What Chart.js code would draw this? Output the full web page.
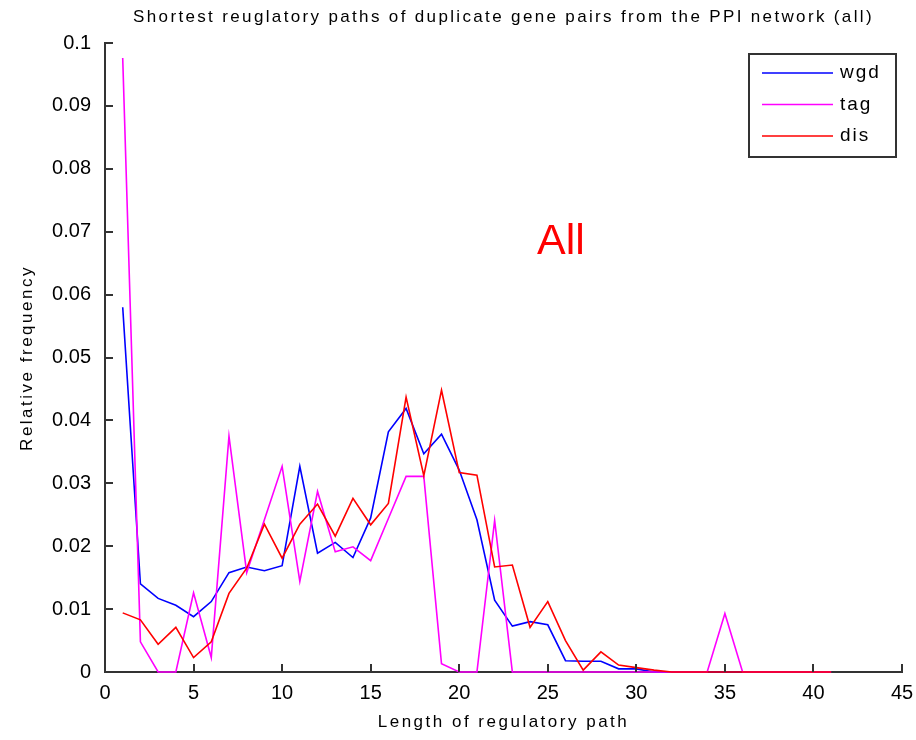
<!DOCTYPE html>
<html>
<head>
<meta charset="utf-8">
<script src="https://cdn.jsdelivr.net/npm/chart.js@4.4.1/dist/chart.umd.min.js"></script>
<style>
    html, body { margin: 0; padding: 0; background: #fff; }
    #wrap { width: 916px; height: 740px; }
</style>
</head>
<body>
<div id="wrap"><canvas id="pathChart" width="916" height="740"></canvas></div>
<script>
// path length 1..41
const pathLength = [1, 2, 3, 4, 5, 6, 7, 8, 9, 10, 11, 12, 13, 14, 15, 16, 17, 18, 19, 20,
    21, 22, 23, 24, 25, 26, 27, 28, 29, 30, 31, 32, 33, 34, 35, 36, 37, 38, 39, 40, 41];

const wgdFreq = [0.058, 0.014, 0.0117, 0.0106, 0.0088, 0.0112, 0.0158, 0.0167, 0.0161, 0.0169,
    0.0327, 0.0189, 0.0206, 0.0182, 0.0245, 0.0382, 0.0419, 0.0347, 0.0378, 0.0321,
    0.0242, 0.0114, 0.0073, 0.0080, 0.0075, 0.0018, 0.0017, 0.0017, 0.0005, 0.0005,
    0, 0, 0, 0, 0, 0, 0, 0, 0, 0, 0];

const tagFreq = [0.0976, 0.0048, 0, 0, 0.0126, 0.0023, 0.0375, 0.0158, 0.0242, 0.0327,
    0.0144, 0.0287, 0.0191, 0.0199, 0.0177, 0.0244, 0.0311, 0.0311, 0.0013, 0,
    0, 0.0241, 0, 0, 0, 0, 0, 0, 0, 0,
    0, 0, 0, 0, 0.0093, 0, 0, 0, 0, 0, 0];

const disFreq = [0.0094, 0.0083, 0.0044, 0.0071, 0.0023, 0.0048, 0.0125, 0.0165, 0.0235, 0.0181,
    0.0235, 0.0267, 0.0216, 0.0276, 0.0234, 0.0268, 0.0437, 0.0312, 0.0448, 0.0317,
    0.0313, 0.0167, 0.0170, 0.0071, 0.0112, 0.005, 0.0003, 0.0032, 0.0011, 0.0007,
    0.0003, 0, 0, 0, 0, 0, 0, 0, 0, 0, 0];

const seriesNames = ["wgd", "tag", "dis"];
const chartTitle = "Shortest reuglatory paths of duplicate gene pairs from the PPI network (all)";
const xTitle = "Length of regulatory path";
const yTitle = "Relative frequency";
const noteText = "All";

const AXIS_COLOR = "#333";

function toPoints(values) {
    return pathLength.map((x, i) => ({ x: x, y: values[i] }));
}

function drawText(ctx, text, x, y, opts) {
    ctx.save();
    ctx.font = opts.font;
    ctx.fillStyle = opts.color || "#000";
    ctx.textAlign = opts.align || "center";
    ctx.textBaseline = opts.baseline || "middle";
    ctx.letterSpacing = (opts.spacing || 0) + "px";
    ctx.translate(x, y);
    if (opts.rotate) ctx.rotate(opts.rotate);
    ctx.fillText(text, 0, 0);
    ctx.restore();
}

// inward tick marks, titles, annotation and the boxed legend
const decorPlugin = {
    id: "decor",
    afterDraw(chart) {
        const ctx = chart.ctx;
        const area = chart.chartArea;
        const xs = chart.scales.x;
        const ys = chart.scales.y;

        ctx.save();
        ctx.strokeStyle = AXIS_COLOR;
        ctx.lineWidth = 2;
        ctx.beginPath();
        xs.ticks.forEach(t => {
            if (t.value === 0) return;
            const px = Math.round(xs.getPixelForValue(t.value));
            ctx.moveTo(px, area.bottom);
            ctx.lineTo(px, area.bottom - 8);
        });
        ys.ticks.forEach(t => {
            if (t.value === 0) return;
            const py = Math.round(ys.getPixelForValue(t.value));
            ctx.moveTo(area.left, py);
            ctx.lineTo(area.left + 8, py);
        });
        ctx.stroke();
        ctx.restore();

        const midX = (area.left + area.right) / 2;
        drawText(ctx, chartTitle, midX, 17, { font: "17px 'Liberation Sans', Arial", spacing: 2.35 });
        drawText(ctx, xTitle, midX, 722, { font: "17px 'Liberation Sans', Arial", spacing: 2.5 });
        drawText(ctx, yTitle, 27, 358, { font: "17px 'Liberation Sans', Arial", spacing: 2.5, rotate: -Math.PI / 2 });
        drawText(ctx, noteText, 561, 254, { font: "43px 'Liberation Sans', Arial", color: "#ff0000", baseline: "alphabetic" });

        // legend box
        const box = { left: 749, top: 54, right: 896, bottom: 157 };
        ctx.save();
        ctx.fillStyle = "#fff";
        ctx.fillRect(box.left, box.top, box.right - box.left, box.bottom - box.top);
        ctx.strokeStyle = AXIS_COLOR;
        ctx.lineWidth = 2;
        ctx.strokeRect(box.left, box.top, box.right - box.left, box.bottom - box.top);
        const rows = [73, 104.5, 136];
        chart.data.datasets.forEach((ds, i) => {
            ctx.strokeStyle = ds.borderColor;
            ctx.lineWidth = 1.6;
            ctx.beginPath();
            ctx.moveTo(762, rows[i]);
            ctx.lineTo(833, rows[i]);
            ctx.stroke();
            drawText(ctx, ds.label, 840, rows[i], { font: "19px 'Liberation Sans', Arial", align: "left", spacing: 2 });
        });
        ctx.restore();
    }
};

const ctx = document.getElementById("pathChart").getContext("2d");

new Chart(ctx, {
    type: "line",
    data: {
        datasets: [
            { label: seriesNames[0], data: toPoints(wgdFreq), borderColor: "#0000ff", order: 2, clip: 3 },
            { label: seriesNames[1], data: toPoints(tagFreq), borderColor: "#ff00ff", order: 1, clip: 3 },
            { label: seriesNames[2], data: toPoints(disFreq), borderColor: "#ff0000", order: 0, clip: 3 }
        ]
    },
    options: {
        responsive: false,
        animation: false,
        devicePixelRatio: 1,
        layout: { padding: { top: 43, right: 14, left: 0, bottom: 0 } },
        elements: {
            line: { borderWidth: 1.6, tension: 0, fill: false },
            point: { radius: 0, hoverRadius: 0 }
        },
        plugins: {
            legend: { display: false },
            tooltip: { enabled: false },
            title: { display: false }
        },
        scales: {
            x: {
                type: "linear",
                min: 0,
                max: 45,
                afterFit: axis => {
                    axis.height = 68;
                    axis.paddingLeft = 0;
                    axis.paddingRight = 0;
                },
                ticks: {
                    stepSize: 5,
                    padding: 9,
                    color: "#000",
                    font: { family: "'Liberation Sans', Arial", size: 20 }
                },
                grid: { display: true, drawOnChartArea: false, drawTicks: false },
                border: { display: true, color: AXIS_COLOR, width: 2 }
            },
            y: {
                min: 0,
                max: 0.1,
                afterFit: axis => {
                    axis.width = 105;
                    axis.paddingTop = 0;
                    axis.paddingBottom = 0;
                },
                ticks: {
                    stepSize: 0.01,
                    padding: 14,
                    color: "#000",
                    font: { family: "'Liberation Sans', Arial", size: 20 },
                    callback: v => String(parseFloat(Number(v).toFixed(2)))
                },
                grid: { display: true, drawOnChartArea: false, drawTicks: false },
                border: { display: true, color: AXIS_COLOR, width: 2 }
            }
        }
    },
    plugins: [decorPlugin]
});
</script>
</body>
</html>
